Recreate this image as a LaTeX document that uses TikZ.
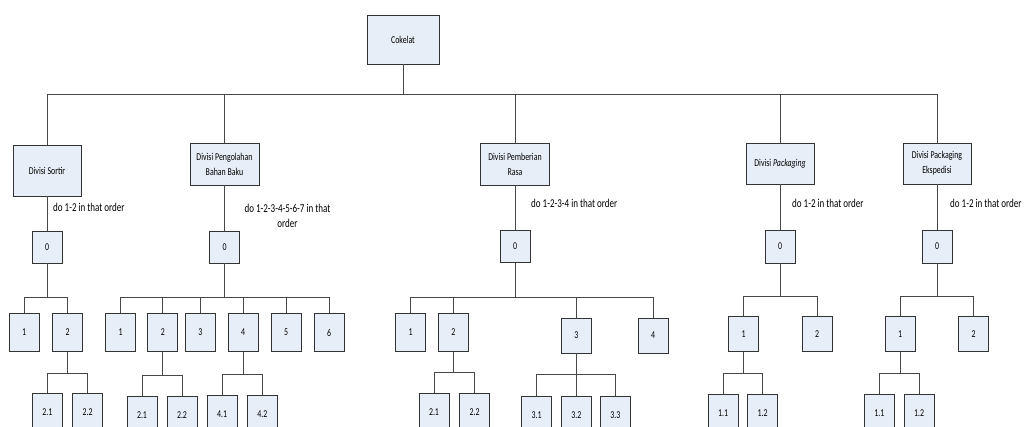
\documentclass[tikz,border=0pt]{standalone}
\usepackage{fontspec}
\setmainfont{Carlito}
\newfontfamily\cfont[FakeStretch=0.75]{Carlito}
\definecolor{boxfill}{HTML}{E8EEF8}
\definecolor{boxline}{HTML}{333333}
\definecolor{wirec}{HTML}{474747}
\tikzset{
  box/.style={draw=boxline, fill=boxfill, line width=0.8pt, inner sep=1pt, align=center,
    font=\cfont\fontsize{10.5}{15}\selectfont, minimum width=30pt, minimum height=38pt},
  note/.style={font=\cfont\fontsize{12}{15}\selectfont, inner sep=0pt, align=center},
  wire/.style={draw=wirec, line width=0.8pt}
}
\begin{document}
\begin{tikzpicture}[x=1pt,y=-1pt]
\clip (0,0) rectangle (1028,426);
\fill[white] (0,0) rectangle (1028,426);

% top level
\node[box, minimum width=72pt, minimum height=49pt] (top) at (403,39.5) {Cokelat};
\node[box, minimum width=68pt, minimum height=51pt] (d1) at (47,170.5) {Divisi Sortir};
\node[box, minimum width=69pt, minimum height=42pt] (d2) at (224.5,164) {Divisi Pengolahan\\Bahan Baku};
\node[box, minimum width=69pt, minimum height=42pt] (d3) at (515,164) {Divisi Pemberian\\Rasa};
\node[box, minimum width=68pt, minimum height=41pt] (d4) at (780,163.5) {Divisi \textit{Packaging}};
\node[box, minimum width=68pt, minimum height=41pt] (d5) at (937,163.5) {Divisi Packaging\\Ekspedisi};

\coordinate (tb) at (0,94.5);
\draw[wire] (top.south) -- (top.south |- tb);
\draw[wire] (d1.north) -- (d1.north |- tb) -- (d5.north |- tb) -- (d5.north);
\draw[wire] (d2.north) -- (d2.north |- tb);
\draw[wire] (d3.north) -- (d3.north |- tb);
\draw[wire] (d4.north) -- (d4.north |- tb);

% zero boxes
\node[box, minimum height=32pt] (z1) at (47,247) {0};
\node[box, minimum height=32pt] (z2) at (224.5,247) {0};
\node[box, minimum height=32pt] (z3) at (515,246.5) {0};
\node[box, minimum height=33pt] (z4) at (780,246.5) {0};
\node[box, minimum height=33pt] (z5) at (937,246.5) {0};
\draw[wire] (d1.south) -- (z1.north);
\draw[wire] (d2.south) -- (z2.north);
\draw[wire] (d3.south) -- (z3.north);
\draw[wire] (d4.south) -- (z4.north);
\draw[wire] (d5.south) -- (z5.north);

% labels
\node[note, anchor=west] (l1) at (53,207) {do 1-2 in that order};
\node[note] (l2) at (287.5,215.5) {do 1-2-3-4-5-6-7 in that\\order};
\node[note, anchor=west] (l3) at (531,203) {do 1-2-3-4 in that order};
\node[note, anchor=west] (l4) at (792,203) {do 1-2 in that order};
\node[note, anchor=west] (l5) at (950,203) {do 1-2 in that order};

% ---- Divisi Sortir subtree
\node[box] (a1) at (24,332.5) {1};
\node[box] (a2) at (67.5,332.5) {2};
\coordinate (ba) at (0,297.7);
\draw[wire] (z1.south) -- (z1.south |- ba);
\draw[wire] (a1.north) -- (a1.north |- ba) -- (a2.north |- ba) -- (a2.north);
\node[box] (a21) at (47.3,412.3) {2.1};
\node[box] (a22) at (87.7,412.3) {2.2};
\coordinate (baa) at (0,373.3);
\draw[wire] (a2.south) -- (a2.south |- baa);
\draw[wire] (a21.north) -- (a21.north |- baa) -- (a22.north |- baa) -- (a22.north);

% ---- Pengolahan subtree
\node[box] (b1) at (120.5,332.5) {1};
\node[box] (b2) at (162.8,332.5) {2};
\node[box] (b3) at (200.3,332.5) {3};
\node[box] (b4) at (243,332.5) {4};
\node[box] (b5) at (286,332.5) {5};
\node[box] (b6) at (329,332.5) {6};
\coordinate (bb) at (0,297.7);
\draw[wire] (z2.south) -- (z2.south |- bb);
\draw[wire] (b1.north) -- (b1.north |- bb) -- (b6.north |- bb) -- (b6.north);
\foreach \n in {b2,b3,b4,b5} \draw[wire] (\n.north) -- (\n.north |- bb);
\node[box] (b21) at (142,415) {2.1};
\node[box] (b22) at (182,415) {2.2};
\coordinate (bb2) at (0,375.7);
\draw[wire] (b2.south) -- (b2.south |- bb2);
\draw[wire] (b21.north) -- (b21.north |- bb2) -- (b22.north |- bb2) -- (b22.north);
\node[box] (b41) at (222.2,414) {4.1};
\node[box] (b42) at (262.3,414) {4.2};
\coordinate (bb4) at (0,374.3);
\draw[wire] (b4.south) -- (b4.south |- bb4);
\draw[wire] (b41.north) -- (b41.north |- bb4) -- (b42.north |- bb4) -- (b42.north);

% ---- Pemberian Rasa subtree
\node[box] (c1) at (410.7,332.5) {1};
\node[box] (c2) at (453.3,332.5) {2};
\node[box, minimum height=35pt] (c3) at (576.3,335.5) {3};
\node[box, minimum height=35pt] (c4) at (653,335.5) {4};
\coordinate (bc) at (0,297.7);
\draw[wire] (z3.south) -- (z3.south |- bc);
\draw[wire] (c1.north) -- (c1.north |- bc) -- (c4.north |- bc) -- (c4.north);
\draw[wire] (c2.north) -- (c2.north |- bc);
\draw[wire] (c3.north) -- (c3.north |- bc);
\node[box] (c21) at (434,412.3) {2.1};
\node[box] (c22) at (474.7,412.3) {2.2};
\coordinate (bc2) at (0,372.3);
\draw[wire] (c2.south) -- (c2.south |- bc2);
\draw[wire] (c21.north) -- (c21.north |- bc2) -- (c22.north |- bc2) -- (c22.north);
\node[box] (c31) at (536.7,415) {3.1};
\node[box] (c32) at (576.3,415) {3.2};
\node[box] (c33) at (615.3,415) {3.3};
\coordinate (bc3) at (0,374);
\draw[wire] (c3.south) -- (c32.north);
\draw[wire] (c31.north) -- (c31.north |- bc3) -- (c33.north |- bc3) -- (c33.north);

% ---- Packaging subtree
\node[box, minimum height=35pt] (e1) at (743.7,334.2) {1};
\node[box, minimum height=35pt] (e2) at (817,334.2) {2};
\coordinate (be) at (0,296);
\draw[wire] (z4.south) -- (z4.south |- be);
\draw[wire] (e1.north) -- (e1.north |- be) -- (e2.north |- be) -- (e2.north);
\node[box] (e11) at (723.2,413.3) {1.1};
\node[box] (e12) at (762.7,413.3) {1.2};
\coordinate (be1) at (0,373.3);
\draw[wire] (e1.south) -- (e1.south |- be1);
\draw[wire] (e11.north) -- (e11.north |- be1) -- (e12.north |- be1) -- (e12.north);

% ---- Packaging Ekspedisi subtree
\node[box, minimum height=35pt] (f1) at (900,334.2) {1};
\node[box, minimum height=35pt] (f2) at (973.7,334.2) {2};
\coordinate (bf) at (0,296);
\draw[wire] (z5.south) -- (z5.south |- bf);
\draw[wire] (f1.north) -- (f1.north |- bf) -- (f2.north |- bf) -- (f2.north);
\node[box] (f11) at (879.3,413.3) {1.1};
\node[box] (f12) at (919,413.3) {1.2};
\coordinate (bf1) at (0,373.3);
\draw[wire] (f1.south) -- (f1.south |- bf1);
\draw[wire] (f11.north) -- (f11.north |- bf1) -- (f12.north |- bf1) -- (f12.north);
\end{tikzpicture}
\end{document}
